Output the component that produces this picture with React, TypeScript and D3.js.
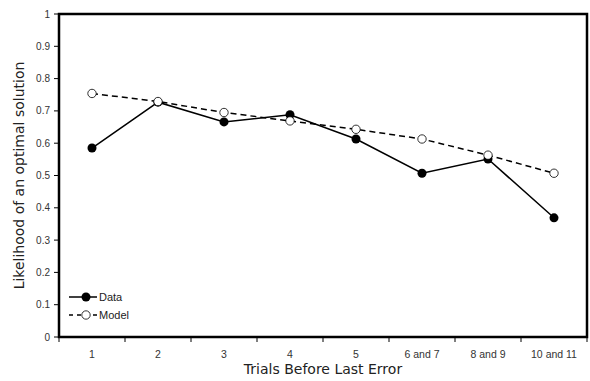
import React from "react";
import * as d3 from "d3";

const categories = ["1", "2", "3", "4", "5", "6 and 7", "8 and 9", "10 and 11"];
const dataValues = [0.585, 0.727, 0.666, 0.688, 0.613, 0.507, 0.551, 0.369];
const modelValues = [0.754, 0.729, 0.695, 0.669, 0.643, 0.613, 0.563, 0.507];
const yTicks = [0, 0.1, 0.2, 0.3, 0.4, 0.5, 0.6, 0.7, 0.8, 0.9, 1];

const W = 590;
const H = 381;
const left = 59;
const right = 587;
const top = 14;
const bottom = 337;
const font = "Liberation Sans, Arial, Helvetica, sans-serif";
const titleFont = "DejaVu Sans, Verdana, sans-serif";

export default function App() {
  const x = d3.scaleBand<string>().domain(categories).range([left, right]);
  const y = d3.scaleLinear().domain([0, 1]).range([bottom, top]);
  const cx = (c: string) => (x(c) as number) + x.bandwidth() / 2;
  const line = d3
    .line<number>()
    .x((_, i) => cx(categories[i]))
    .y((v) => y(v));

  const boundaries = categories.map((c) => x(c) as number).concat([right]);

  return (
    <svg
      width={W}
      height={H}
      style={{ position: "absolute", left: 0, top: 0, background: "#fff" }}
      fontFamily={font}
    >
      {/* y ticks */}
      {yTicks.map((t) => (
        <g key={t}>
          <line x1={left - 5} x2={left} y1={y(t)} y2={y(t)} stroke="#000" strokeWidth={1} />
          <text x={left - 9} y={y(t) + 3.5} fontSize={10} textAnchor="end" fill="#333">
            {String(t)}
          </text>
        </g>
      ))}
      {/* x ticks at category boundaries */}
      {boundaries.map((b, i) => (
        <line key={i} x1={b} x2={b} y1={bottom} y2={bottom + 5} stroke="#000" strokeWidth={1} />
      ))}
      {categories.map((c) => (
        <text key={c} x={cx(c)} y={bottom + 21} fontSize={10.5} textAnchor="middle" fill="#333">
          {c}
        </text>
      ))}

      {/* series */}
      <path d={line(modelValues) || ""} fill="none" stroke="#000" strokeWidth={1.5} strokeDasharray="6,4" />
      <path d={line(dataValues) || ""} fill="none" stroke="#000" strokeWidth={1.5} />
      {dataValues.map((v, i) => (
        <circle key={"d" + i} cx={cx(categories[i])} cy={y(v)} r={4.5} fill="#000" />
      ))}
      {modelValues.map((v, i) => (
        <circle key={"m" + i} cx={cx(categories[i])} cy={y(v)} r={4.2} fill="#fff" stroke="#000" strokeWidth={0.8} />
      ))}

      {/* frame */}
      <rect x={left} y={top} width={right - left} height={bottom - top} fill="none" stroke="#000" strokeWidth={2.5} />

      {/* legend */}
      <line x1={69} x2={97} y1={297} y2={297} stroke="#000" strokeWidth={1.5} />
      <circle cx={86} cy={297} r={4.5} fill="#000" />
      <text x={99} y={301} fontSize={11} fill="#222">Data</text>
      <line x1={69} x2={97} y1={315} y2={315} stroke="#000" strokeWidth={1.5} strokeDasharray="4,4" />
      <circle cx={86} cy={315} r={4.2} fill="#fff" stroke="#000" strokeWidth={0.8} />
      <text x={99} y={319} fontSize={11} fill="#222">Model</text>

      {/* axis titles */}
      <text x={(left + right) / 2} y={374} fontSize={14} textAnchor="middle" fill="#222" fontFamily={titleFont}>
        Trials Before Last Error
      </text>
      <text
        transform={`translate(24, ${(top + bottom) / 2}) rotate(-90)`}
        fontSize={14}
        textAnchor="middle"
        fill="#222"
        fontFamily={titleFont}
      >
        Likelihood of an optimal solution
      </text>
    </svg>
  );
}
